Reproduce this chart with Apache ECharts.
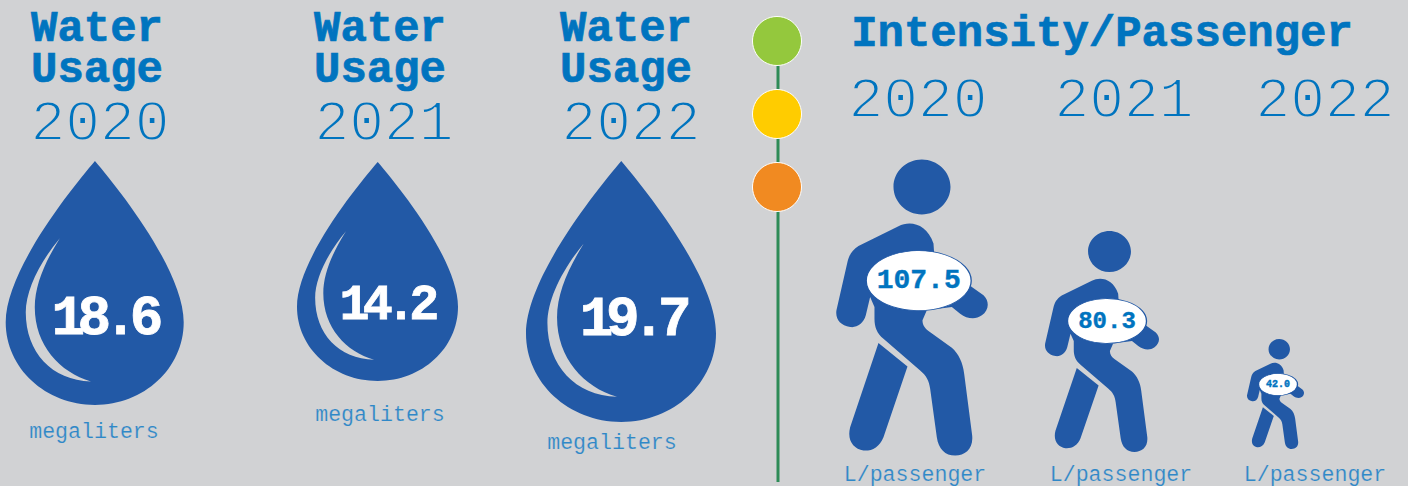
<!DOCTYPE html>
<html>
<head>
<meta charset="utf-8">
<style>
  html, body { margin: 0; padding: 0; background: #d1d2d4; }
  #chart { width: 1408px; height: 486px; }
  /* Light numerals: the background-coloured outline is painted over the glyph fill */
  #chart text[stroke="#d1d2d4"] { paint-order: normal; }
  /* Drop values are set tight */
  #chart text[style*="56px"] { letter-spacing: -7.5px; }
  #chart text[style*="50px"] { letter-spacing: -6.8px; }
</style>
<script src="https://cdn.jsdelivr.net/npm/echarts@6/dist/echarts.min.js"></script>
</head>
<body>
<div id="chart"></div>
<script>
// Values
const years = ['2020', '2021', '2022'];
const waterUsage = [18.6, 14.2, 19.7];
const intensity = [107.5, 80.3, 42.0];
const waterUnit = 'megaliters';
const intensityUnit = 'L/passenger';
const waterTitle = 'Water\nUsage';
const intensityTitle = 'Intensity/Passenger';
const statusColors = ['#94c83d', '#ffcc00', '#f18a21'];

// Layout, in canvas pixels
const dropCenters = [[94.7, 283], [377.5, 271.5], [621, 291.5]];
const dropSizes = [[178, 244], [161, 219], [190, 261]];
const dropLabelOffsets = [[9, 36], [8.5, 33.5], [11, 28]];
const dropLabelFonts = [56, 50, 56];
const waterTitleX = [97, 380, 626];
const waterYearX = [100, 384, 631];
const unitY = [432, 415, 443];
const unitX = [94, 380, 612];
const personCenters = [[912, 307.5], [1102, 341.5], [1275.5, 394]];
const personSizes = [[151.5, 296], [114, 221], [57, 110]];
const badgeCenters = [[918.7, 280.7], [1107, 321], [1278, 384.5]];
const badgeSizes = [[105, 60], [79, 45], [39, 22]];
const badgeFonts = [28, 24, 10];
const intensityYearX = [918, 1124, 1325];
const intensityUnitX = [915, 1121, 1315];
const statusY = [41, 114, 187];

const BACKGROUND = '#d1d2d4';
const INK = '#0074bf';
const SOFT = '#2f88c8';
const MARK = '#2259a6';
const FONT = '"Liberation Mono", monospace';

// Water drop with a crescent highlight cut out of it
const dropPath = 'path://M95 161 C118 188 183.5 270 183.5 322 C183.5 368 144 404.5 95 404.5 ' +
  'C46 404.5 6 368 6 322 C6 270 72 188 95 161 Z ' +
  'M60 238 C40 262 26 290 26 312 C26 352 52 380 91 381 C60 372 35 345 35 307 C35 285 45 262 60 238 Z';

// Walking figure: head, torso with front leg and arms, back leg
const personPath = 'path://M305 28 C352 28 391 65 391 110 C391 155 352 193 305 193 ' +
  'C258 193 220 155 220 110 C220 65 258 28 305 28 Z ' +
  'M235 228 C270 210 320 220 340 280 L342 310 L455 410 L490 435 C510 455 505 480 485 495 ' +
  'C465 510 440 505 420 490 L395 470 L320 480 L307 510 C307 525 315 535 325 542 L395 592 ' +
  'C415 610 428 635 432 670 L456 855 C460 895 435 915 405 915 C375 915 355 895 350 860 ' +
  'L330 715 C327 690 318 675 300 660 L190 565 C170 548 163 530 163 505 L163 470 L150 440 ' +
  'L137 495 C130 520 110 533 90 530 C60 525 45 505 49 480 L82 335 C87 315 95 300 115 287 Z ' +
  'M175 578 L262 648 L190 860 C178 890 155 902 130 900 C100 895 80 870 90 830 Z';

function text(str, x, y, size, weight, color, extra) {
  return {
    type: 'text',
    x, y,
    silent: true,
    style: Object.assign({
      text: str,
      fill: color,
      font: weight + ' ' + size + 'px ' + FONT,
      align: 'center',
      verticalAlign: 'middle'
    }, extra)
  };
}

const heavy = { stroke: INK, lineWidth: 0.7 };
const stacked = { stroke: INK, lineWidth: 0.7, lineHeight: 41 };
const lightYear = { stroke: BACKGROUND, lineWidth: 2 };
const lightUnit = { stroke: BACKGROUND, lineWidth: 0.2 };

const texts = [];
years.forEach((year, i) => {
  texts.push(text(waterTitle, waterTitleX[i], 49, 44, 'bold', INK, stacked));
  texts.push(text(year, waterYearX[i], 124, 58, 'normal', INK, lightYear));
  texts.push(text(waterUnit, unitX[i], unitY[i], 21.6, 'normal', SOFT, lightUnit));
  texts.push(text(year, intensityYearX[i], 101, 58, 'normal', INK, lightYear));
  texts.push(text(intensityUnit, intensityUnitX[i], 475, 21.6, 'normal', SOFT, lightUnit));
});
texts.push(text(intensityTitle, 1102, 34, 44, 'bold', INK, heavy));

const option = {
  backgroundColor: BACKGROUND,
  animation: false,
  grid: { left: 0, right: 0, top: 0, bottom: 0 },
  xAxis: { type: 'value', min: 0, max: 1408, show: false },
  yAxis: { type: 'value', min: 0, max: 486, inverse: true, show: false },
  graphic: texts,
  series: [
    {
      name: 'Status stem',
      type: 'line',
      symbol: 'none',
      z: 1,
      lineStyle: { color: '#2e8b57', width: 3 },
      data: [[778, 41], [778, 482]]
    },
    {
      name: 'Status',
      type: 'scatter',
      z: 2,
      symbolSize: 49,
      data: statusColors.map((color, i) => ({
        value: [777, statusY[i]],
        itemStyle: { color, borderColor: '#ffffff', borderWidth: 1, opacity: 1 }
      }))
    },
    {
      name: 'Water usage',
      type: 'scatter',
      z: 3,
      symbol: dropPath,
      data: waterUsage.map((v, i) => ({
        value: [dropCenters[i][0], dropCenters[i][1], v],
        symbolSize: dropSizes[i],
        itemStyle: { color: MARK, opacity: 1 },
        label: {
          show: true,
          position: 'inside',
          offset: dropLabelOffsets[i],
          formatter: () => v.toFixed(1),
          color: '#ffffff',
          fontFamily: FONT,
          fontWeight: 'bold',
          fontSize: dropLabelFonts[i],
          textBorderColor: '#ffffff',
          textBorderWidth: 0.8
        }
      }))
    },
    {
      name: 'Intensity',
      type: 'scatter',
      z: 3,
      symbol: personPath,
      data: intensity.map((v, i) => ({
        value: [personCenters[i][0], personCenters[i][1], v],
        symbolSize: personSizes[i],
        itemStyle: { color: MARK, opacity: 1 }
      }))
    },
    {
      name: 'Intensity value',
      type: 'scatter',
      z: 4,
      symbol: 'circle',
      data: intensity.map((v, i) => ({
        value: [badgeCenters[i][0], badgeCenters[i][1], v],
        symbolSize: badgeSizes[i],
        itemStyle: { color: '#ffffff', borderColor: MARK, borderWidth: 1, opacity: 1 },
        label: {
          show: true,
          position: 'inside',
          formatter: () => v.toFixed(1),
          color: INK,
          fontFamily: FONT,
          fontWeight: 'bold',
          fontSize: badgeFonts[i],
          textBorderColor: INK,
          textBorderWidth: 0.4
        }
      }))
    }
  ]
};

echarts.init(document.getElementById('chart'), null, { renderer: 'svg' }).setOption(option);
</script>
</body>
</html>
